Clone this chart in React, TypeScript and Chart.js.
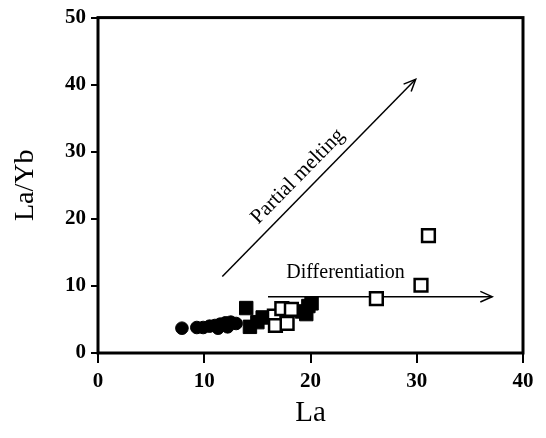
import React, { useEffect, useRef } from "react";
import { Chart, registerables } from "chart.js";

Chart.register(...registerables);

// ---- data (La vs La/Yb) ----
const circleLa = [7.9, 9.3, 9.9, 10.5, 11.0, 11.3, 11.5, 12.0, 12.2, 12.5, 13.0];
const circleLaYb = [3.7, 3.8, 3.8, 4.0, 4.1, 3.7, 4.3, 4.5, 3.9, 4.6, 4.4];

const filledSqLa = [13.95, 14.3, 15.0, 15.5, 19.2, 19.8, 20.1, 19.6];
const filledSqLaYb = [6.7, 3.9, 4.6, 5.3, 6.2, 7.0, 7.4, 5.8];

const openSqLa = [16.6, 16.7, 17.3, 17.8, 18.2, 26.2, 30.4, 31.1];
const openSqLaYb = [5.5, 4.1, 6.6, 4.4, 6.5, 8.1, 10.1, 17.5];

const xTickValues = [0, 10, 20, 30, 40];
const yTickValues = [0, 10, 20, 30, 40, 50];

// trend arrows (data units: [start, end])
const meltingArrowLa = [11.7, 29.9];
const meltingArrowLaYb = [11.4, 40.8];
const diffArrowLa = [16.0, 37.1];
const diffArrowLaYb = [8.4, 8.4];

// annotation text anchors (data units)
const meltingLabel = { text: "Partial melting", la: 18.8, laYb: 26.3 };
const diffLabel = { text: "Differentiation", la: 23.3, laYb: 12.0 };

const SERIF = "'Liberation Serif', 'Times New Roman', serif";

function toPts(xs: number[], ys: number[]) {
  return xs.map((x, i) => ({ x, y: ys[i] }));
}

const annotationPlugin = {
  id: "annotations",
  beforeDatasetsDraw(chart: any) {
    const { ctx, scales } = chart;
    const xs = scales.x;
    const ys = scales.y;
    const drawArrow = (la: number[], lyb: number[]) => {
      const x1 = xs.getPixelForValue(la[0]);
      const y1 = ys.getPixelForValue(lyb[0]);
      const x2 = xs.getPixelForValue(la[1]);
      const y2 = ys.getPixelForValue(lyb[1]);
      const ang = Math.atan2(y2 - y1, x2 - x1);
      ctx.save();
      ctx.strokeStyle = "#000";
      ctx.lineWidth = 1.5;
      ctx.beginPath();
      ctx.moveTo(x1, y1);
      ctx.lineTo(x2, y2);
      ctx.stroke();
      const hl = 13;
      const ha = 0.42;
      ctx.beginPath();
      ctx.moveTo(x2 - hl * Math.cos(ang - ha), y2 - hl * Math.sin(ang - ha));
      ctx.lineTo(x2, y2);
      ctx.lineTo(x2 - hl * Math.cos(ang + ha), y2 - hl * Math.sin(ang + ha));
      ctx.stroke();
      ctx.restore();
      return ang;
    };
    const mAng = drawArrow(meltingArrowLa, meltingArrowLaYb);
    drawArrow(diffArrowLa, diffArrowLaYb);

    ctx.save();
    ctx.fillStyle = "#000";
    ctx.textAlign = "center";
    ctx.textBaseline = "middle";
    ctx.font = `21px ${SERIF}`;
    ctx.translate(xs.getPixelForValue(meltingLabel.la), ys.getPixelForValue(meltingLabel.laYb));
    ctx.rotate(mAng);
    ctx.fillText(meltingLabel.text, 0, 0);
    ctx.restore();

    ctx.save();
    ctx.fillStyle = "#000";
    ctx.textAlign = "center";
    ctx.textBaseline = "middle";
    ctx.font = `20px ${SERIF}`;
    ctx.fillText(diffLabel.text, xs.getPixelForValue(diffLabel.la), ys.getPixelForValue(diffLabel.laYb));
    ctx.restore();
  },
  afterDraw(chart: any) {
    const { ctx, chartArea } = chart;
    ctx.save();
    ctx.strokeStyle = "#000";
    ctx.lineWidth = 3;
    ctx.strokeRect(chartArea.left, chartArea.top, chartArea.right - chartArea.left, chartArea.bottom - chartArea.top);
    ctx.restore();
  },
};

export default function App() {
  const ref = useRef<HTMLCanvasElement | null>(null);
  useEffect(() => {
    if (!ref.current) return;
    const chart = new Chart(ref.current, {
      type: "scatter",
      data: {
        datasets: [
          {
            label: "open",
            data: toPts(openSqLa, openSqLaYb),
            pointStyle: "rect",
            pointRadius: 9,
            backgroundColor: "#fff",
            borderColor: "#000",
            borderWidth: 2.5,
          },
          {
            label: "filled squares",
            data: toPts(filledSqLa, filledSqLaYb),
            pointStyle: "rect",
            pointRadius: 9.5,
            backgroundColor: "#000",
            borderColor: "#000",
            borderWidth: 1,
          },
          {
            label: "circles",
            data: toPts(circleLa, circleLaYb),
            pointStyle: "circle",
            pointRadius: 6.3,
            backgroundColor: "#000",
            borderColor: "#000",
            borderWidth: 1,
          },
        ],
      },
      options: {
        animation: false,
        responsive: false,
        events: [],
        layout: { padding: { top: 15, right: 23, left: 0, bottom: 0 } },
        plugins: { legend: { display: false }, tooltip: { enabled: false } },
        scales: {
          x: {
            type: "linear",
            min: 0,
            max: 40,
            afterBuildTicks: (s: any) => {
              s.ticks = xTickValues.map((v) => ({ value: v }));
            },
            afterFit: (s: any) => {
              s.height = 85;
            },
            border: { display: false },
            grid: { drawOnChartArea: false, drawTicks: true, tickLength: 10, color: "#000", lineWidth: 2 },
            ticks: { color: "#000", padding: 6, font: { family: SERIF, size: 21, weight: "bold" } },
            title: { display: true, text: "La", color: "#000", font: { family: SERIF, size: 29 }, padding: { top: 0, bottom: 7 } },
          },
          y: {
            type: "linear",
            min: 0,
            max: 50,
            afterBuildTicks: (s: any) => {
              s.ticks = yTickValues.map((v) => ({ value: v }));
            },
            afterFit: (s: any) => {
              s.width = 98;
            },
            border: { display: false },
            grid: { drawOnChartArea: false, drawTicks: true, tickLength: 7, color: "#000", lineWidth: 2 },
            ticks: { color: "#000", padding: 5, font: { family: SERIF, size: 21, weight: "bold" } },
            title: { display: true, text: "La/Yb", color: "#000", font: { family: SERIF, size: 28 }, padding: { top: 9, bottom: 0 } },
          },
        },
      },
      plugins: [annotationPlugin],
    } as any);
    return () => chart.destroy();
  }, []);
  return (
    <div style={{ position: "absolute", left: 0, top: 0, width: 546, height: 438, background: "#fff" }}>
      <canvas ref={ref} width={546} height={438} style={{ display: "block" }} />
    </div>
  );
}
